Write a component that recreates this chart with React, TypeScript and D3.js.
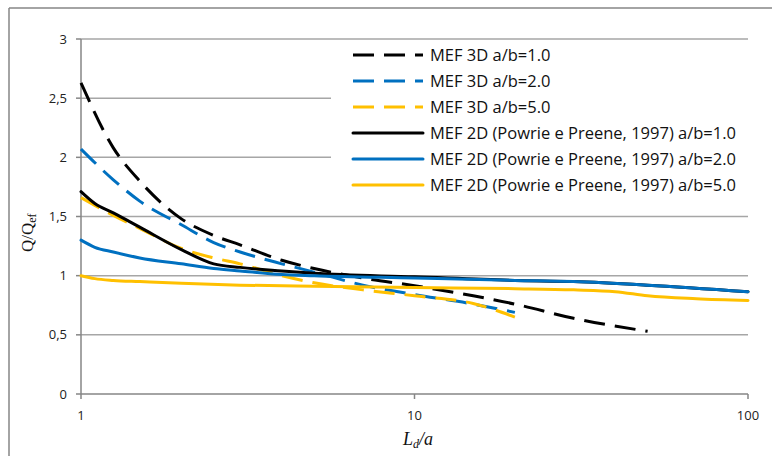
import React from "react";
import * as d3 from "d3";

const W = 772;
const H = 456;

const xTicks = [1, 10, 100];
const yTicks = [0, 0.5, 1, 1.5, 2, 2.5, 3];
const yTickLabels = ["0", "0,5", "1", "1,5", "2", "2,5", "3"];

const seriesNames = [
  "MEF 3D a/b=1.0",
  "MEF 3D a/b=2.0",
  "MEF 3D a/b=5.0",
  "MEF 2D (Powrie e Preene, 1997) a/b=1.0",
  "MEF 2D (Powrie e Preene, 1997) a/b=2.0",
  "MEF 2D (Powrie e Preene, 1997) a/b=5.0",
];
const seriesColors = ["#000000", "#0070C0", "#FFC000", "#000000", "#0070C0", "#FFC000"];
const seriesDashed = [true, true, true, false, false, false];

const x3D1 = [1, 1.25, 1.5, 2, 2.5, 3, 4, 5, 7, 10, 15, 20, 30, 50];
const y3D1 = [2.63, 2.08, 1.8, 1.48, 1.34, 1.26, 1.13, 1.06, 0.98, 0.915, 0.83, 0.76, 0.64, 0.53];

const x3D2 = [1, 1.25, 1.5, 2, 2.5, 3, 4, 5, 7, 10, 15, 20];
const y3D2 = [2.07, 1.81, 1.63, 1.43, 1.28, 1.2, 1.1, 1.03, 0.92, 0.84, 0.76, 0.69];

const x3D5 = [1, 1.25, 1.5, 2, 2.5, 3, 4, 5, 7, 10, 15, 20];
const y3D5 = [1.66, 1.51, 1.4, 1.23, 1.15, 1.1, 1.0, 0.94, 0.88, 0.83, 0.765, 0.65];

const x2D1 = [1, 1.1, 1.25, 1.5, 2, 2.5, 3, 4, 5, 10, 20, 30, 50, 100];
const y2D1 = [1.71, 1.61, 1.53, 1.41, 1.22, 1.1, 1.07, 1.04, 1.02, 0.99, 0.96, 0.95, 0.92, 0.865];

const x2D2 = [1, 1.1, 1.25, 1.5, 2, 2.5, 3, 4, 5, 10, 20, 30, 50, 100];
const y2D2 = [1.3, 1.24, 1.2, 1.15, 1.1, 1.06, 1.04, 1.01, 1.0, 0.98, 0.96, 0.95, 0.92, 0.865];

const x2D5 = [1, 1.1, 1.25, 1.5, 2, 3, 5, 10, 20, 30, 40, 50, 70, 100];
const y2D5 = [1.0, 0.975, 0.96, 0.95, 0.935, 0.92, 0.91, 0.9, 0.89, 0.88, 0.865, 0.83, 0.805, 0.79];

const seriesX = [x3D1, x3D2, x3D5, x2D1, x2D2, x2D5];
const seriesY = [y3D1, y3D2, y3D5, y2D1, y2D2, y2D5];

const plotL = 81;
const plotR = 748;
const plotT = 39;
const plotB = 394;

export default function App() {
  const x = d3.scaleLog().domain([1, 100]).range([plotL, plotR]);
  const y = d3.scaleLinear().domain([0, 3]).range([plotB, plotT]);
  const gridColor = "#A6A6A6";
  const axisColor = "#868686";
  const sans = "'Open Sans', 'Liberation Sans', sans-serif";
  const serif = "'Liberation Serif', 'DejaVu Serif', serif";

  const line = d3
    .line<[number, number]>()
    .x((d) => x(d[0]))
    .y((d) => y(d[1]))
    .curve(d3.curveMonotoneX);

  const legX1 = 353;
  const legX2 = 423;
  const legY0 = 55;
  const legDy = 26;

  return (
    <svg width={W} height={H} style={{ position: "absolute", left: 0, top: 0, background: "#fff" }}>
      {/* outer border */}
      <line x1={9} y1={8} x2={W} y2={8} stroke={axisColor} strokeWidth={1.5} />
      <line x1={9} y1={8} x2={9} y2={H} stroke={axisColor} strokeWidth={1.5} />

      {/* gridlines */}
      {yTicks.filter((t) => t > 0).map((t) => (
        <line key={"g" + t} x1={plotL} x2={plotR} y1={y(t)} y2={y(t)} stroke={gridColor} strokeWidth={1.5} />
      ))}

      {/* legend background */}
      <rect x={331} y={y(3) + 1.5} width={plotR - 331 + 1} height={y(1.5) - y(3) - 3} fill="#fff" />

      {/* axes */}
      <line x1={plotL} x2={plotL} y1={plotT} y2={plotB} stroke={axisColor} strokeWidth={1.5} />
      <line x1={plotL} x2={plotR} y1={plotB} y2={plotB} stroke={axisColor} strokeWidth={1.5} />
      {yTicks.map((t, i) => (
        <g key={"yt" + t}>
          <line x1={plotL - 5} x2={plotL} y1={y(t)} y2={y(t)} stroke={axisColor} strokeWidth={1.5} />
          <text x={67} y={y(t) + 4.5} textAnchor="end" fontFamily={sans} fontSize={13} fill="#222">
            {yTickLabels[i]}
          </text>
        </g>
      ))}
      {xTicks.map((t) => (
        <g key={"xt" + t}>
          <line x1={x(t)} x2={x(t)} y1={plotB} y2={plotB + 5} stroke={axisColor} strokeWidth={1.5} />
          <text x={x(t)} y={420} textAnchor="middle" fontFamily={sans} fontSize={13} fill="#222">
            {t}
          </text>
        </g>
      ))}

      {/* series */}
      {seriesX.map((xs, i) => {
        const pts = xs.map((v, j) => [v, seriesY[i][j]] as [number, number]);
        return (
          <path
            key={"s" + i}
            d={line(pts) || ""}
            fill="none"
            stroke={seriesColors[i]}
            strokeWidth={3}
            strokeDasharray={seriesDashed[i] ? "21,10" : undefined}
            strokeLinejoin="round"
            strokeLinecap={seriesDashed[i] ? "butt" : "round"}
          />
        );
      })}

      {/* legend */}
      {seriesNames.map((n, i) => {
        const ly = legY0 + i * legDy;
        return (
          <g key={"l" + i}>
            <line
              x1={legX1}
              x2={legX2}
              y1={ly}
              y2={ly}
              stroke={seriesColors[i]}
              strokeWidth={3}
              strokeDasharray={seriesDashed[i] ? "21,10" : undefined}
              strokeLinecap={seriesDashed[i] ? "butt" : "round"}
            />
            <text x={430} y={ly + 6} fontFamily={sans} fontSize={16.5} fill="#111">
              {n}
            </text>
          </g>
        );
      })}

      {/* axis titles */}
      <text x={403} y={445} fontFamily={serif} fontSize={18} fontStyle="italic" fill="#111">
        L<tspan fontSize={12} dy={3}>d</tspan>
        <tspan dy={-3}>/a</tspan>
      </text>
      <text
        transform={`translate(33, 252) rotate(-90)`}
        fontFamily={serif}
        fontSize={17}
        fill="#111"
      >
        Q/Q<tspan fontSize={12} dy={3}>ef</tspan>
      </text>
    </svg>
  );
}
